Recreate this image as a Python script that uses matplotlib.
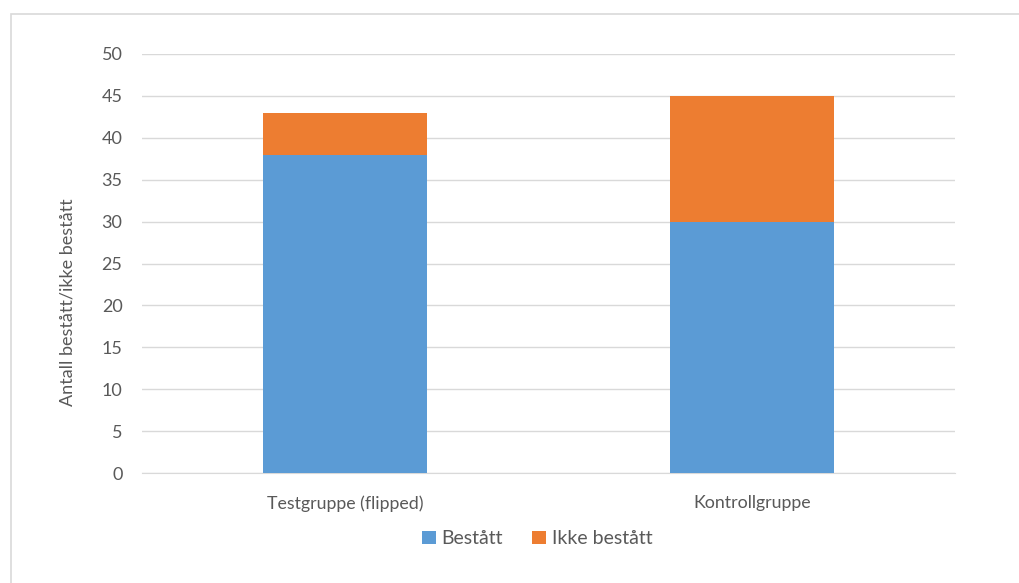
import numpy as np
import matplotlib
matplotlib.use("Agg")
import matplotlib.pyplot as plt
from matplotlib.patches import Rectangle

plt.rcParams['font.family'] = ['Lato', 'DejaVu Sans']

grupper = ['Testgruppe (flipped)', 'Kontrollgruppe']
bestatt = [38, 30]
ikke_bestatt = [5, 15]

BLA = '#5B9BD5'
ORANSJE = '#ED7D31'
TEKST = '#595959'
GRID = '#D9D9D9'

fig = plt.figure(figsize=(10.19, 5.83), dpi=100)
# tynn ramme rundt diagramomraadet (som i Excel)
fig.patches.append(Rectangle((11 / 1019, -0.1), 1.2, 1 - 14 / 583 + 0.1,
                             transform=fig.transFigure, fill=False,
                             edgecolor='#D9D9D9', lw=1.2))

ax = fig.add_axes([142 / 1019, 1 - 473 / 583, (955 - 142) / 1019, (473 - 54) / 583])
x = np.arange(len(grupper))
ax.bar(x, bestatt, width=0.403, color=BLA, label='Bestått', zorder=3)
ax.bar(x, ikke_bestatt, width=0.403, bottom=bestatt, color=ORANSJE,
       label='Ikke bestått', zorder=3)

ax.set_xlim(-0.5, 1.5)
ax.set_ylim(0, 50)
ax.set_yticks(np.arange(0, 51, 5))
ax.set_xticks(x)
ax.set_xticklabels(grupper)
ax.yaxis.grid(True, color=GRID, lw=1, zorder=0)
for s in ['top', 'right', 'left']:
    ax.spines[s].set_visible(False)
ax.spines['bottom'].set_color(GRID)
ax.tick_params(axis='both', length=0, colors=TEKST)
ax.tick_params(axis='y', labelsize=13, pad=14)
ax.tick_params(axis='x', labelsize=12.8, pad=16)
ax.set_ylabel('Antall bestått/ikke bestått', color=TEKST, fontsize=13)
ax.yaxis.set_label_coords(-0.082, 0.408)

ax.legend(loc='upper center', bbox_to_anchor=(0.486, -0.095), ncol=2, frameon=False,
          fontsize=14, labelcolor=TEKST, handlelength=0.7, handleheight=0.7,
          handletextpad=0.3, columnspacing=1.5)

fig.savefig('out.png', dpi=100)
